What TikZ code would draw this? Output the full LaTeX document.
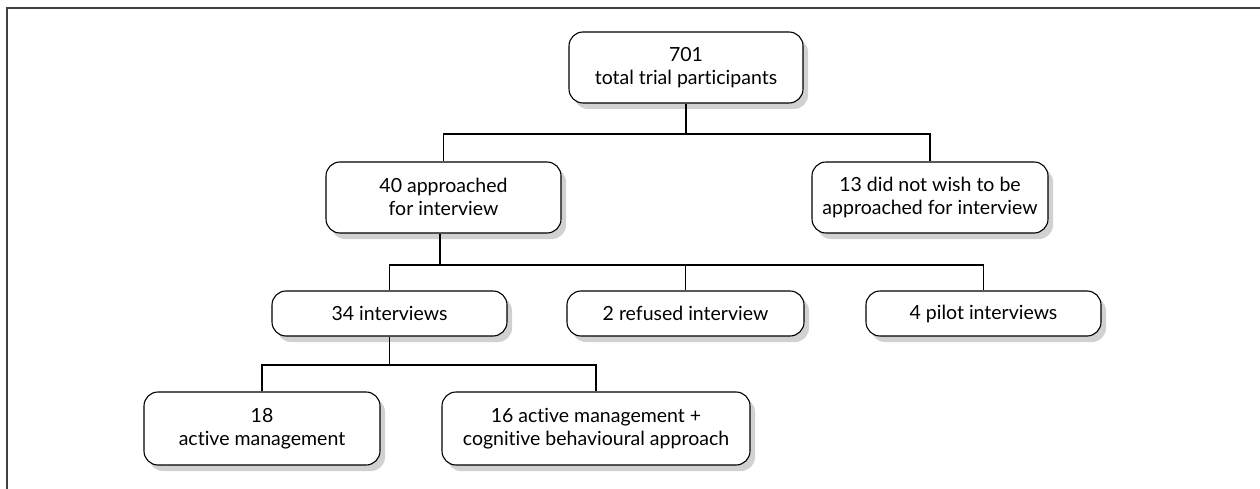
\documentclass[tikz,border=0pt]{standalone}
\usepackage{fontspec}
\setmainfont{Lato}[Ligatures={NoCommon}]
\usetikzlibrary{shadows}
\newcommand\bxs{\rule[-2pt]{0pt}{17pt}}
\begin{document}
\begin{tikzpicture}[x=1pt,y=-1pt,
  box/.style={draw=black, line width=1.1pt, fill=white, rounded corners=14pt,
    align=center, inner sep=0pt, font=\fontsize{19.5}{23}\selectfont,
    drop shadow={shadow xshift=5pt, shadow yshift=-6pt, fill=black!18, opacity=1}},
  conn/.style={draw=black, line width=1.2pt}]
\useasboundingbox (0,0) rectangle (1260,489);
\draw[line width=1.5pt, black!75] (7,489) -- (7,8) -- (1260,8);

\node[box, minimum width=234pt, minimum height=71pt] (n701) at (686,67.5) {\bxs 701\\\bxs total trial participants};
\node[box, minimum width=235pt, minimum height=71pt] (n40) at (443.5,197.5) {\bxs 40 approached\\\bxs for interview};
\node[box, minimum width=236pt, minimum height=71pt] (n13) at (930,197.5) {\bxs 13 did not wish to be\\\bxs approached for interview};
\node[box, minimum width=235pt, minimum height=45pt] (n34) at (389.5,313.5) {\bxs 34 interviews};
\node[box, minimum width=237pt, minimum height=45pt] (nref) at (685.5,313.5) {\bxs 2 refused interview};
\node[box, minimum width=235pt, minimum height=45pt] (npil) at (983.5,313.5) {\bxs 4 pilot interviews};
\node[box, minimum width=236pt, minimum height=73pt] (n18) at (262,428.5) {\bxs 18\\\bxs active management};
\node[box, minimum width=308pt, minimum height=73pt] (n16) at (596,428.5) {\bxs 16 active management +\\\bxs cognitive behavioural approach};

\coordinate (b1) at (686,134);
\coordinate (b2) at (440,265);
\coordinate (b3) at (389.5,365);

\draw[conn] (n701.south) -- (b1) -| (n40.north);
\draw[conn] (b1) -| (n13.north);
\draw[conn] (n40.south -| b2) -- (b2) -| (n34.north);
\draw[conn] (b2) -| (nref.north);
\draw[conn] (b2) -| (npil.north);
\draw[conn] (n34.south) -- (b3) -| (n18.north);
\draw[conn] (b3) -| (n16.north);
\end{tikzpicture}
\end{document}
